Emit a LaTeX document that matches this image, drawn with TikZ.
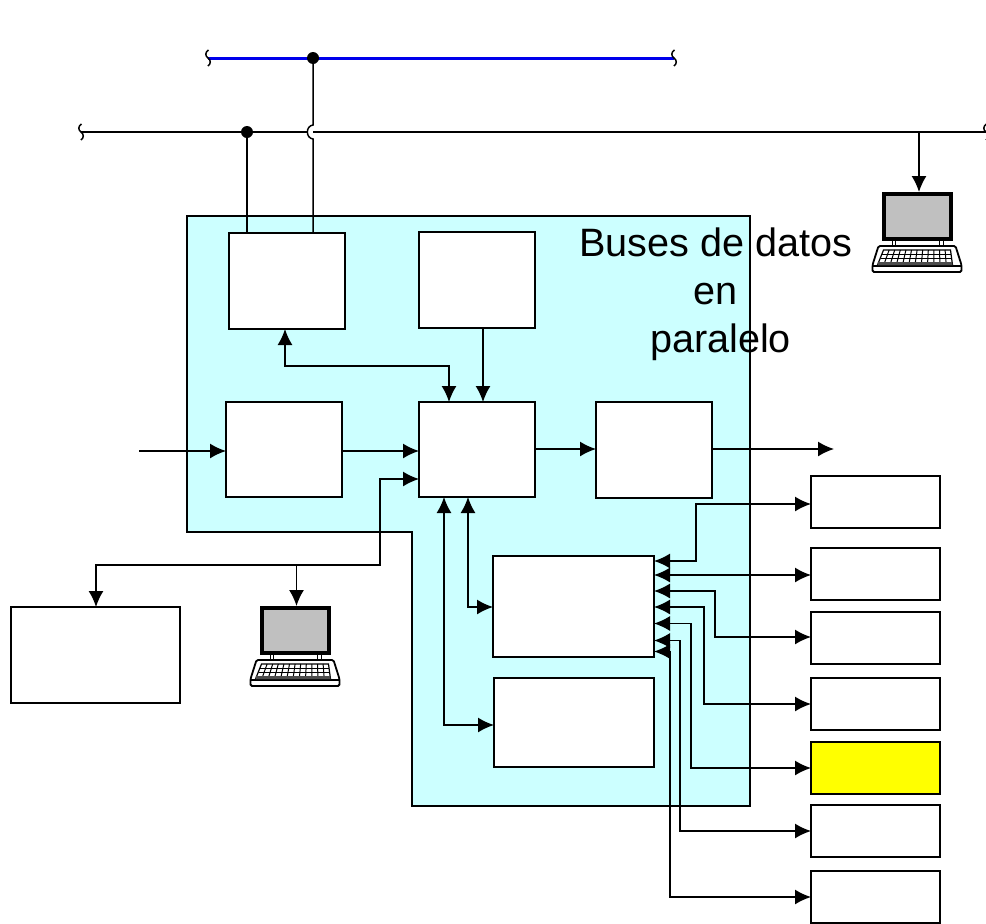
\documentclass[tikz,border=0pt]{standalone}
\usepackage{fontspec}
\setmainfont{Liberation Sans}
\usetikzlibrary{arrows.meta,calc}

\definecolor{zonecyan}{RGB}{204,255,255}
\definecolor{busblue}{RGB}{0,0,235}
\definecolor{screengray}{RGB}{192,192,192}
\definecolor{devyellow}{RGB}{255,255,0}

\tikzset{
  blockbox/.style={draw, fill=white, inner sep=0pt, outer sep=0pt},
  busdot/.style={circle, fill=black, inner sep=0pt, outer sep=0pt, minimum size=12pt},
  busend/.pic={
    \draw[line width=1.5pt] (0.5,-8) .. controls (-3,-6) and (-3,-2) .. (0,0)
      .. controls (3,2) and (3,6) .. (0,8);
  },
  terminal/.pic={
    % monitor
    \draw[line width=3.6pt, fill=screengray] (-33.5,2) rectangle (33.5,47);
    \draw[line width=1pt] (-25,49) -- (-25,54) (-22,49) -- (-22,54) (22,49) -- (22,54) (25.5,49) -- (25.5,54);
    % keyboard
    \draw[line width=1.8pt, fill=white, rounded corners=1.5pt] (-39,54) -- (38,54) -- (44,73) -- (44,80) -- (-45,80) -- (-45,73) -- cycle;
    \draw[line width=1.2pt] (-45,74) -- (44,74);
    \draw[line width=1.2pt, fill=white] (-34,58) -- (33,58) -- (35,73) -- (-40,73) -- cycle;
    \foreach \k in {1,...,11}
      \draw[line width=1pt] ({-34+\k*5.6},58) -- ({-40+\k*6.25},73);
    \draw[line width=1pt] (-35.5,62) -- (33.5,62) (-37,66) -- (34,66);
    \fill[black!70] (-39.5,70) -- (34.5,70) -- (35,73) -- (-40,73) -- cycle;
  },
}

\begin{document}
\begin{tikzpicture}[x=1pt, y=-1pt, line width=1.5pt, >={Latex[length=16pt,width=15pt]}]
  \useasboundingbox (0,0) rectangle (986,924);

  % shaded zone
  \draw[fill=zonecyan] (187,216) -- (750,216) -- (750,806) -- (412,806) -- (412,532) -- (187,532) -- cycle;

  % blocks
  \node[blockbox, minimum width=116pt, minimum height=96pt] (gateway) at (287,281) {};
  \node[blockbox, minimum width=116pt, minimum height=96pt] (memory) at (477,280) {};
  \node[blockbox, minimum width=116pt, minimum height=95pt] (input) at (284,449.5) {};
  \node[blockbox, minimum width=116pt, minimum height=95pt] (core) at (477,449.5) {};
  \node[blockbox, minimum width=116pt, minimum height=96pt] (output) at (654,450) {};
  \node[blockbox, minimum width=161pt, minimum height=101pt] (iobus) at (573.5,606.5) {};
  \node[blockbox, minimum width=160pt, minimum height=89pt] (storage) at (574,722.5) {};
  \node[blockbox, minimum width=169pt, minimum height=96pt] (printer) at (95.5,655) {};

  \node[blockbox, minimum width=129pt, minimum height=52pt] (devA) at (875.5,502) {};
  \node[blockbox, minimum width=129pt, minimum height=52pt] (devB) at (875.5,574) {};
  \node[blockbox, minimum width=129pt, minimum height=52pt] (devC) at (875.5,638) {};
  \node[blockbox, minimum width=129pt, minimum height=52pt] (devD) at (875.5,704) {};
  \node[blockbox, minimum width=129pt, minimum height=52pt, fill=devyellow] (devE) at (875.5,768) {};
  \node[blockbox, minimum width=129pt, minimum height=52pt] (devF) at (875.5,831) {};
  \node[blockbox, minimum width=129pt, minimum height=52pt] (devG) at (875.5,897) {};

  % buses
  \coordinate (blueL) at (208,58);
  \coordinate (blueR) at (674,58);
  \coordinate (blackL) at (81,132);
  \coordinate (blackR) at (986,132);
  \coordinate (pcA) at (917.5,192);
  \coordinate (pcB) at (295.5,606);
  \coordinate (pcAtop) at (919,192);
  \coordinate (pcBtop) at (296.5,606);
  \coordinate (inStart) at (139,451);
  \coordinate (outEnd) at (834,449);
  \coordinate (fork) at (380,565);

  \draw[busblue, line width=3pt] (blueL) -- (blueR);
  \draw (blackL) -- (blackR);
  \pic at (blueL) {busend};
  \pic at (blueR) {busend};
  \pic at (blackL) {busend};
  \pic at (blackR) {busend};
  \node[busdot] (tapA) at (247,132) {};
  \node[busdot] (tapB) at (313,58) {};

  \draw (tapA) -- (tapA |- gateway.north);
  \draw[white, line width=3pt] (307,132) -- (313,132);
  \draw (tapB) -- (313,125) .. controls (305.5,126) and (305.5,138) .. (313,139) -- (tapB |- gateway.north);

  % connectors of the zone
  \draw[->] (memory.south -| 483,0) -- (core.north -| 483,0);
  \draw[<->] (gateway.south -| 285,0) |- (449,366) -- (core.north -| 449,0);
  \draw[->] (inStart) -- (input.west |- inStart);
  \draw[->] (input.east |- inStart) -- (core.west |- inStart);
  \draw[->] (core.east |- outEnd) -- (output.west |- outEnd);
  \draw[->] (output.east |- outEnd) -- (outEnd);
  \draw[<->] (printer.north -| 96,0) |- (fork) |- (core.west |- 0,479);
  \draw[->] (fork -| pcBtop) -- (pcBtop);
  \draw[<->] (core.south -| 444,0) |- (storage.west |- 0,725);
  \draw[<->] (core.south -| 468,0) |- (iobus.west |- 0,607);
  \draw[->] (pcAtop |- blackR) -- (pcAtop);

  % connectors of the devices
  \foreach \ya/\xb/\yb/\dev in {561/696/504/devA, 591/715/637/devC, 607/704/704/devD,
      623.5/691/768/devE, 640.5/680/831/devF, 651.5/670/897/devG}
    \draw[<->] (iobus.east |- 0,\ya) -| (\xb,\yb) -- (\dev.west |- 0,\yb);
  \draw[<->] (iobus.east |- 0,575) -- (devB.west |- 0,575);

  \pic at (pcA) {terminal};
  \pic at (pcB) {terminal};

  \node[align=center, font=\fontsize{39.6}{48}\selectfont, inner sep=0pt] (title) at (716,294) {Buses de datos\\en\\\hspace*{9pt}paralelo};
\end{tikzpicture}
\end{document}
